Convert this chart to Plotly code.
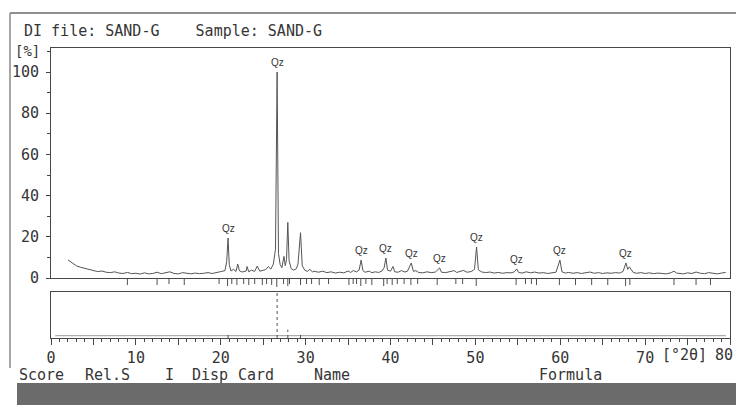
import plotly.graph_objects as go

# ---------------- data ----------------
two_theta = [2.0, 2.5, 3.0, 3.5, 4.0, 4.5, 5.0, 5.5, 6.0, 6.5, 7.0, 7.5, 8.0, 8.5, 9.0, 9.5,
             10.0, 10.5, 11.0, 11.5, 12.0, 12.5, 13.0, 13.5, 14.0, 14.5, 15.0, 15.5, 16.0,
             16.5, 17.0, 17.5, 18.0, 18.5, 19.0, 19.5, 20.0, 20.5, 20.7, 20.86, 21.0, 21.2,
             21.5, 21.8, 22.0, 22.2, 22.5, 23.0, 23.1, 23.3, 23.6, 24.0, 24.3, 24.6, 25.0,
             25.3, 25.6, 25.9, 26.2, 26.45, 26.64, 26.8, 27.0, 27.2, 27.45, 27.6, 27.75,
             27.9, 28.05, 28.3, 28.6, 28.9, 29.1, 29.4, 29.6, 29.9, 30.2, 30.5, 30.8, 31.0,
             31.5, 32.0, 32.5, 33.0, 33.5, 34.0, 34.5, 35.0, 35.3, 35.6, 36.0, 36.3, 36.54,
             36.75, 37.0, 37.5, 37.8, 38.2, 38.6, 39.0, 39.25, 39.46, 39.65, 40.0, 40.29,
             40.5, 40.9, 41.3, 41.7, 42.0, 42.45, 42.7, 43.0, 43.3, 43.8, 44.3, 44.8, 45.3,
             45.79, 46.0, 46.5, 47.0, 47.5, 47.8, 48.2, 48.6, 49.0, 49.5, 49.9, 50.14, 50.35,
             50.7, 51.2, 51.7, 52.2, 52.7, 53.2, 53.7, 54.2, 54.6, 54.87, 55.1, 55.5, 56.0,
             56.5, 57.0, 57.5, 58.0, 58.5, 59.0, 59.5, 59.96, 60.2, 60.6, 61.0, 61.5, 62.0,
             62.5, 63.0, 63.5, 64.0, 64.5, 65.0, 65.5, 66.0, 66.5, 67.0, 67.4, 67.74, 67.95,
             68.14, 68.31, 68.6, 69.0, 69.5, 70.0, 70.5, 71.0, 71.5, 72.0, 72.5, 73.0, 73.4,
             73.7, 74.0, 74.5, 75.0, 75.5, 76.0, 76.5, 77.0, 77.5, 78.0, 78.5, 79.0, 79.5]
intensity = [8.8, 7.2, 5.9, 5.2, 4.6, 4.0, 3.6, 3.1, 3.4, 2.8, 2.6, 3.0, 2.4, 2.2, 2.7, 2.1,
             2.3, 1.9, 2.5, 2.0, 2.2, 2.8, 2.1, 2.4, 3.0, 2.2, 2.0, 2.6, 2.3,
             2.0, 2.4, 2.1, 2.3, 2.6, 2.2, 2.8, 3.1, 3.6, 8.0, 19.4, 6.5, 3.4,
             4.2, 3.2, 6.8, 3.5, 2.9, 3.4, 5.6, 3.0, 3.8, 3.2, 5.8, 3.3, 3.6,
             4.1, 5.5, 4.3, 6.8, 14.0, 100.0, 12.0, 6.5, 5.0, 10.5, 6.0, 9.0,
             27.0, 8.5, 4.5, 3.8, 4.5, 6.8, 22.0, 6.0, 3.8, 3.2, 4.2, 3.0, 3.3,
             2.8, 3.3, 2.6, 3.0, 2.4, 2.8, 2.5, 3.4, 2.7, 3.6, 3.0, 3.8, 8.7,
             3.6, 2.8, 3.3, 2.6, 3.0, 2.7, 3.4, 5.0, 9.7, 3.8, 3.3, 5.6,
             3.0, 2.8, 3.6, 2.9, 3.3, 7.3, 3.2, 3.6, 2.7, 2.5, 3.0, 2.6, 2.9,
             4.9, 2.8, 2.6, 3.0, 3.6, 2.7, 3.1, 3.7, 2.8, 3.1, 4.2, 15.0, 4.0,
             3.0, 2.6, 2.9, 2.4, 2.7, 2.3, 2.6, 2.5, 3.0, 4.4, 2.7, 2.4, 3.0,
             2.5, 2.9, 2.4, 2.6, 2.2, 2.5, 2.8, 8.7, 3.0, 2.4, 2.7, 2.3, 2.6,
             2.2, 2.5, 2.9, 2.3, 2.6, 2.2, 2.5, 2.3, 2.6, 2.4, 3.2, 7.3, 4.2,
             5.4, 4.6, 2.7, 2.3, 2.6, 2.2, 2.5, 2.1, 2.4, 2.2, 2.0, 2.5, 3.3,
             2.4, 2.2, 2.0, 2.5, 2.2, 2.9, 2.3, 2.1, 2.6, 2.3, 2.0, 2.4, 2.7]

qz_pos = [20.86, 26.64, 36.54, 39.46, 42.45, 45.79, 50.14, 54.87, 59.96, 67.74]
qz_int = [19.4, 100.0, 8.7, 9.7, 7.3, 4.9, 15.0, 4.4, 8.7, 7.3]
qz_label = "Qz"

ref_pos = [9.0, 12.5, 13.9, 15.7, 19.8, 20.8, 21.3, 21.9, 22.7, 23.3, 24.0, 24.9, 25.4,
           26.0, 26.6, 27.4, 27.9, 28.1, 29.4, 30.1, 30.7, 31.6, 32.7, 35.1, 35.6, 36.0,
           36.5, 37.1, 37.8, 39.2, 39.6, 40.2, 40.8, 41.6, 42.4, 43.2, 45.5, 47.7, 48.5,
           50.1, 54.8, 55.9, 56.6, 57.2, 59.9, 61.8, 63.7, 65.6, 67.7, 68.2, 73.4, 76.0, 77.7]
ref_len = [7, 7, 6, 7, 6, 8, 6, 7, 6, 7, 6, 7, 6,
           7, 9, 6, 8, 6, 7, 6, 6, 7, 6, 7, 6, 6,
           8, 6, 7, 8, 6, 7, 6, 6, 7, 6, 7, 6, 6,
           8, 7, 6, 6, 7, 7, 7, 7, 7, 8, 7, 7, 7, 7]

low_pos = [20.86, 26.64, 27.9, 29.4]
low_val = [8, 100, 18, 10]
low_base_x = [0.5, 79.5]
low_base_y = [5, 5]

x_tickvals = [0, 5, 10, 15, 20, 25, 30, 35, 40, 45, 50, 55, 60, 65, 70, 75, 80]
x_ticktext = ["0", "", "10", "", "20", "", "30", "", "40", "", "50", "", "60", "", "70", "", ""]
x_last_label = "80"
y_tickvals = [0, 20, 40, 60, 80, 100]
y_ticktext = ["0", "20", "40", "60", "80", "100"]

header_text = "DI file: SAND-G    Sample: SAND-G"
y_unit = "[%]"
x_unit = "[°2θ]"
footer_words = [("Score", 17), ("Rel.S", 83), ("I", 163), ("Disp", 190), ("Card", 236),
                ("Name", 312), ("Formula", 537)]

# ---------------- layout geometry ----------------
W, H = 736, 405
L, R, T, B = 51, 6, 48, 67
PW, PH = W - L - R, H - T - B


def px(x):
    return (x - L) / PW


def py(y):
    return (H - B - y) / PH


MAIN_BOTTOM = 278
LOW_TOP = 292
LINE = "#474747"
TXT = "#353535"
FONT = "DejaVu Sans Mono, Liberation Mono, monospace"

fig = go.Figure()

# main pattern
fig.add_trace(go.Scatter(x=two_theta, y=intensity, mode="lines",
                         line=dict(color="#555555", width=1), xaxis="x", yaxis="y",
                         hoverinfo="skip", showlegend=False))

# reference sticks under the baseline
sx, sy = [], []
for p, l in zip(ref_pos, ref_len):
    sx += [p, p, None]
    sy += [0, l, None]
fig.add_trace(go.Scatter(x=sx, y=sy, mode="lines", line=dict(color="#505050", width=1),
                         xaxis="x", yaxis="y3", hoverinfo="skip", showlegend=False))

# lower panel
fig.add_trace(go.Scatter(x=low_base_x, y=low_base_y, mode="lines",
                         line=dict(color="#9a9a9a", width=1), xaxis="x2", yaxis="y2",
                         hoverinfo="skip", showlegend=False))
lx, ly = [], []
for p, v in zip(low_pos, low_val):
    lx += [p, p, None]
    ly += [0, v, None]
fig.add_trace(go.Scatter(x=lx, y=ly, mode="lines",
                         line=dict(color="#505050", width=1, dash="dot"),
                         xaxis="x2", yaxis="y2", hoverinfo="skip", showlegend=False))

annotations = []
for p, v in zip(qz_pos, qz_int):
    annotations.append(dict(x=p, y=v, xref="x", yref="y", text=qz_label, showarrow=False,
                            yanchor="bottom", yshift=2,
                            font=dict(family="Arial", size=10, color=TXT)))
annotations.append(dict(x=px(22), y=py(31), xref="paper", yref="paper", text=header_text,
                        showarrow=False, xanchor="left", yanchor="middle",
                        font=dict(family=FONT, size=15, color=TXT)))
annotations.append(dict(x=px(13), y=py(51), xref="paper", yref="paper", text=y_unit,
                        showarrow=False, xanchor="left", yanchor="middle",
                        font=dict(family=FONT, size=14, color=TXT)))
annotations.append(dict(x=px(684), y=py(355), xref="paper", yref="paper", text=x_unit,
                        showarrow=False, xanchor="center", yanchor="middle",
                        font=dict(family=FONT, size=15, color=TXT)))
annotations.append(dict(x=px(735), y=py(355), xref="paper", yref="paper", text=x_last_label,
                        showarrow=False, xanchor="right", yanchor="middle",
                        font=dict(family=FONT, size=15, color=TXT)))
for word, xx in footer_words:
    annotations.append(dict(x=px(xx), y=py(375), xref="paper", yref="paper", text=word,
                            showarrow=False, xanchor="left", yanchor="middle",
                            font=dict(family=FONT, size=15, color=TXT)))

shapes = [
    dict(type="line", xref="paper", yref="paper", x0=px(10), x1=px(740), y0=py(13), y1=py(13),
         line=dict(color="#6a6a6a", width=1.5)),
    dict(type="line", xref="paper", yref="paper", x0=px(10), x1=px(10), y0=py(13), y1=py(368),
         line=dict(color="#8a8a8a", width=1.5)),
    dict(type="rect", xref="paper", yref="paper", x0=px(17), x1=px(740), y0=py(383), y1=py(406),
         line=dict(width=0), fillcolor="#6b6b6b"),
]

main_dom = [py(MAIN_BOTTOM), 1.0]
stick_dom = [py(LOW_TOP), py(MAIN_BOTTOM)]
low_dom = [0.0, py(LOW_TOP)]
y_top = (MAIN_BOTTOM - T) / ((MAIN_BOTTOM - 72) / 100.0)

fig.update_layout(
    width=W, height=H, margin=dict(l=L, r=R, t=T, b=B),
    paper_bgcolor="white", plot_bgcolor="white", showlegend=False,
    xaxis=dict(domain=[0, 1], range=[0, 80], anchor="y", showline=True, mirror=True,
               linecolor=LINE, linewidth=1, showgrid=False, zeroline=False,
               showticklabels=False, ticks=""),
    yaxis=dict(domain=main_dom, range=[0, y_top], anchor="x", showline=True, mirror=True,
               linecolor=LINE, linewidth=1, showgrid=False, zeroline=False,
               tickmode="array", tickvals=y_tickvals, ticktext=y_ticktext,
               ticks="outside", ticklen=4, tickcolor=LINE, ticklabelstandoff=4,
               minor=dict(dtick=10, tick0=0, ticks="outside", ticklen=3, tickcolor=LINE,
                          showgrid=False),
               tickfont=dict(family=FONT, size=15, color=TXT)),
    yaxis3=dict(domain=stick_dom, range=[14, 0], anchor="x", visible=False),
    xaxis2=dict(domain=[0, 1], range=[0, 80], anchor="y2", showline=True, mirror=True,
                linecolor=LINE, linewidth=1, showgrid=False, zeroline=False,
                tickmode="array", tickvals=x_tickvals, ticktext=x_ticktext,
                ticks="outside", ticklen=6, tickcolor=LINE,
                minor=dict(dtick=1, tick0=0, ticks="outside", ticklen=3, tickcolor=LINE,
                           showgrid=False),
                tickfont=dict(family=FONT, size=15, color=TXT)),
    yaxis2=dict(domain=low_dom, range=[0, 100], anchor="x2", showline=True, mirror=True,
                linecolor=LINE, linewidth=1, showgrid=False, zeroline=False,
                showticklabels=False, ticks=""),
    annotations=annotations, shapes=shapes,
)

fig.write_html("out.html")
